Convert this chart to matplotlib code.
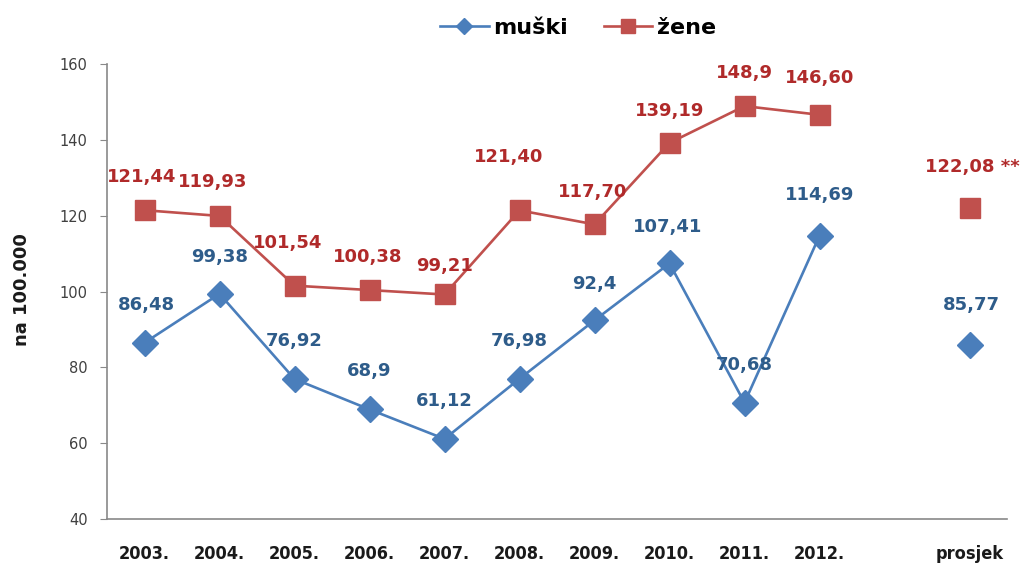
import matplotlib

matplotlib.use("Agg")
import matplotlib.pyplot as plt
import numpy as np

# categories (slot 10 stays empty between 2012. and prosjek)
categories = ["2003.", "2004.", "2005.", "2006.", "2007.", "2008.", "2009.", "2010.", "2011.", "2012.", "", "prosjek"]
years_pos = np.arange(10)
avg_pos = 11

muski = [86.48, 99.38, 76.92, 68.9, 61.12, 76.98, 92.4, 107.41, 70.68, 114.69]
zene = [121.44, 119.93, 101.54, 100.38, 99.21, 121.40, 117.70, 139.19, 148.9, 146.60]
muski_avg = 85.77
zene_avg = 122.08

muski_labels = ["86,48", "99,38", "76,92", "68,9", "61,12", "76,98", "92,4", "107,41", "70,68", "114,69", "85,77"]
zene_labels = ["121,44", "119,93", "101,54", "100,38", "99,21", "121,40", "117,70", "139,19", "148,9", "146,60", "122,08 **"]

# label offsets in pixels (dx, dy) relative to the marker
muski_offsets = [(2, 38), (0, 37), (0, 38), (0, 38), (0, 38), (0, 38), (0, 36), (-2, 36), (0, 38), (0, 41), (2, 40)]
zene_offsets = [(-3, 33), (-7, 34), (-7, 43), (-2, 33), (0, 28), (-11, 53), (-2, 32), (0, 32), (0, 33), (0, 37), (3, 41)]

BLUE = "#4A7EBB"
RED = "#C0504D"
BLUE_TXT = "#2E5C8A"
RED_TXT = "#B02A2A"

fig = plt.figure(figsize=(10.25, 5.69), dpi=100)
ax = fig.add_axes([107 / 1025, 50 / 569, 900 / 1025, 455 / 569])

ax.plot(years_pos, muski, color=BLUE, lw=1.9, marker="D", ms=13, mfc=BLUE, mec=BLUE, label="muški", zorder=3)
ax.plot(years_pos, zene, color=RED, lw=1.9, marker="s", ms=15, mfc=RED, mec=RED, label="žene", zorder=3)
ax.plot([avg_pos], [muski_avg], ls="none", marker="D", ms=13, mfc=BLUE, mec=BLUE, zorder=3)
ax.plot([avg_pos], [zene_avg], ls="none", marker="s", ms=15, mfc=RED, mec=RED, zorder=3)

xs = list(years_pos) + [avg_pos]
for x, y, txt, (dx, dy) in zip(xs, muski + [muski_avg], muski_labels, muski_offsets):
    ax.annotate(txt, (x, y), xytext=(dx, dy), textcoords="offset pixels",
                ha="center", va="center", fontsize=13, fontweight="bold", color=BLUE_TXT, zorder=4)
for x, y, txt, (dx, dy) in zip(xs, zene + [zene_avg], zene_labels, zene_offsets):
    ax.annotate(txt, (x, y), xytext=(dx, dy), textcoords="offset pixels",
                ha="center", va="center", fontsize=13, fontweight="bold", color=RED_TXT, zorder=4)

ax.set_xlim(-0.5, 11.5)
ax.set_ylim(40, 160)
ax.set_yticks(np.arange(40, 161, 20))
ax.set_xticks(np.arange(len(categories)))
ax.set_xticklabels(categories, fontsize=13, fontweight="bold", color="#1a1a1a",
                   fontstretch="condensed")
ax.tick_params(axis="x", length=0, pad=19)
ax.tick_params(axis="y", length=5, pad=9, labelsize=10.5, labelcolor="#404040", color="#898989")

for side in ("top", "right"):
    ax.spines[side].set_visible(False)
for side in ("left", "bottom"):
    ax.spines[side].set_color("#898989")
    ax.spines[side].set_linewidth(1.2)

fig.text(22 / 1025, 1 - 290 / 569, "na 100.000", rotation=90, ha="center", va="center",
         fontsize=13, fontweight="bold", color="#1a1a1a")

leg = fig.legend(loc="center", bbox_to_anchor=(578 / 1025, 1 - 28 / 569), ncol=2, frameon=False,
                 markerscale=0.65, handlelength=2.2, columnspacing=1.6, handletextpad=0.2,
                 prop={"size": 16, "weight": "bold"})

fig.savefig("out.png", dpi=100)
